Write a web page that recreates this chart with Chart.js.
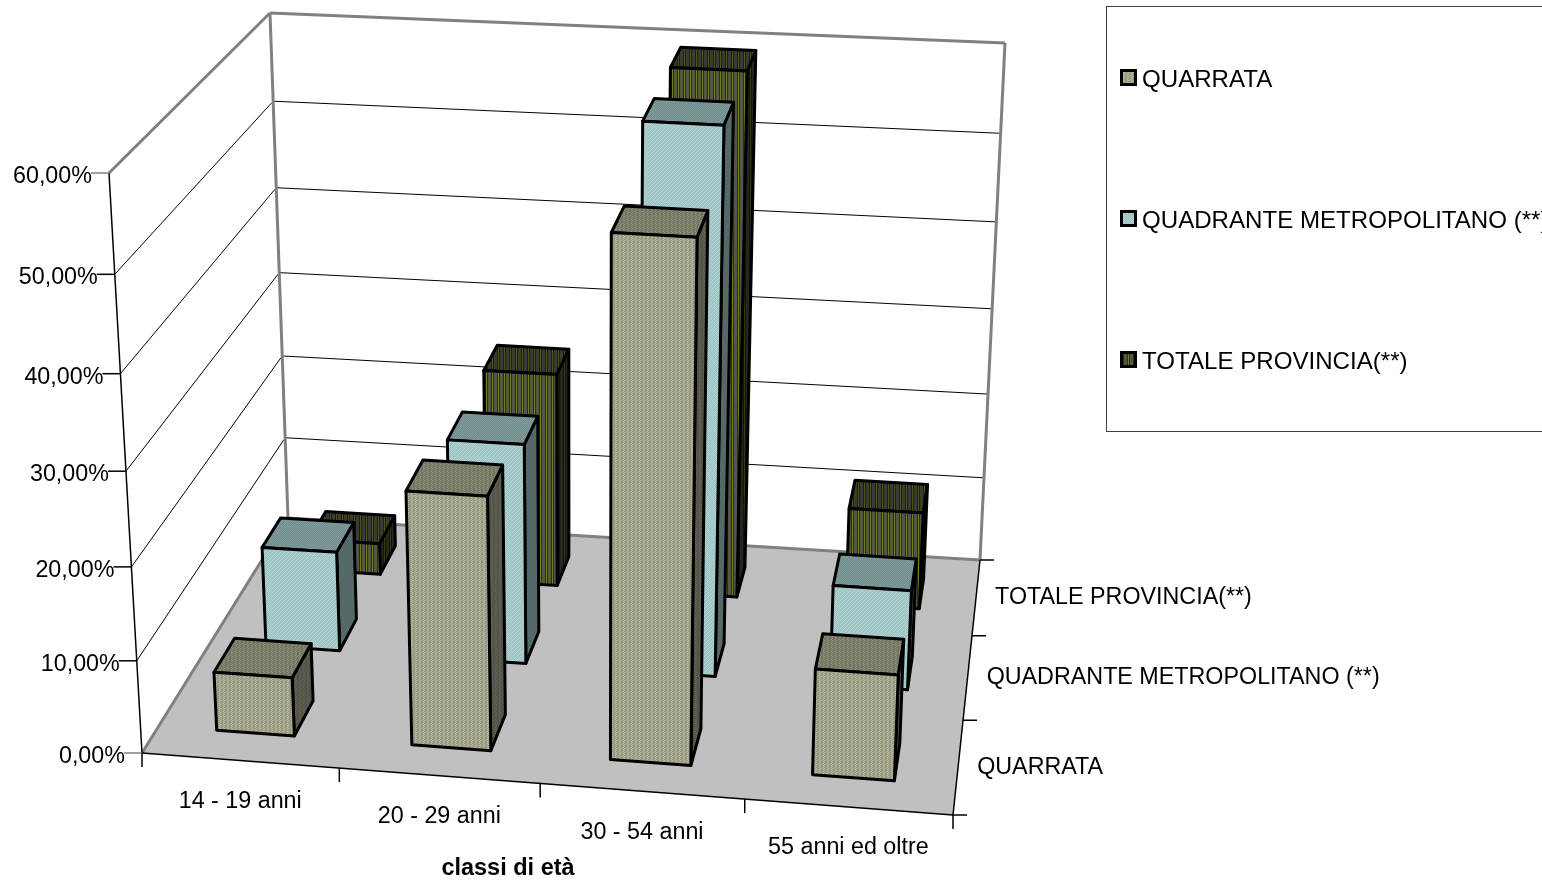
<!DOCTYPE html>
<html lang="it">
<head>
<meta charset="utf-8">
<title>Classi di età</title>
<script src="https://cdn.jsdelivr.net/npm/chart.js@4"></script>
<style>
  html, body { margin: 0; padding: 0; background: #fff; overflow: hidden; }
  canvas { display: block; }
</style>
</head>
<body>
<canvas id="chart" width="1542" height="883"></canvas>
<script>
// Chart data: share of each age class per territory, in percent.
const categories = ['14 - 19 anni', '20 - 29 anni', '30 - 54 anni', '55 anni ed oltre'];
const seriesNames = ['QUARRATA', 'QUADRANTE METROPOLITANO (**)', 'TOTALE PROVINCIA(**)'];
const quarrata = [6.4, 27.3, 54.9, 11.4];
const quadrante = [11.3, 24.7, 59.8, 11.2];
const provincia = [3.7, 24.9, 59.7, 11.3];
const valueTicks = [0, 10, 20, 30, 40, 50, 60];
const xTitle = 'classi di età';

const FONT = '"Liberation Sans", Arial, sans-serif';
const AXIS_FONT = `23.3px ${FONT}`;

// Camera frame of the 3D box: floor and ceiling corners in screen space,
// ordered front-left, front-right, back-right, back-left.
const FLOOR = [[142, 753], [953, 815], [980, 560], [288, 518]];
const CEILING = [[109, 173], [979, 222], [1005, 43], [270, 13]];
const HEIGHT_WEIGHT = 0.945;
const FLOOR_U_BEND = 0.015;
const CEILING_U_BEND = 0.04;

// Homography taking the unit square onto a screen quadrilateral.
function quadMap(q) {
  const [[ax, ay], [bx, by], [cx, cy], [dx, dy]] = q;
  const dx1 = bx - cx, dx2 = dx - cx, sx = ax - bx + cx - dx;
  const dy1 = by - cy, dy2 = dy - cy, sy = ay - by + cy - dy;
  const den = dx1 * dy2 - dx2 * dy1;
  const g = (sx * dy2 - dx2 * sy) / den;
  const h = (dx1 * sy - sx * dy1) / den;
  return (u, v) => {
    const d = g * u + h * v + 1;
    return [
      ((bx - ax + g * bx) * u + (dx - ax + h * dx) * v + ax) / d,
      ((by - ay + g * by) * u + (dy - ay + h * dy) * v + ay) / d
    ];
  };
}
const floorAt = quadMap(FLOOR);
const ceilingAt = quadMap(CEILING);

// u: along the categories, v: into the depth, w: height; all in 0..1.
function project(u, v, w) {
  const f = floorAt(u + FLOOR_U_BEND * u * (1 - u), v);
  const c = ceilingAt(u + CEILING_U_BEND * u * (1 - u), v);
  const a = 1 - w, b = w * HEIGHT_WEIGHT;
  return [(f[0] * a + c[0] * b) / (a + b), (f[1] * a + c[1] * b) / (a + b)];
}

function polygon(ctx, pts, fill, stroke, lw) {
  ctx.beginPath();
  pts.forEach((p, i) => (i ? ctx.lineTo(p[0], p[1]) : ctx.moveTo(p[0], p[1])));
  ctx.closePath();
  if (fill) { ctx.fillStyle = fill; ctx.fill(); }
  if (stroke) { ctx.strokeStyle = stroke; ctx.lineWidth = lw; ctx.lineJoin = 'round'; ctx.stroke(); }
}

function segment(ctx, p, q, color, lw) {
  ctx.beginPath();
  ctx.moveTo(p[0], p[1]);
  ctx.lineTo(q[0], q[1]);
  ctx.strokeStyle = color;
  ctx.lineWidth = lw;
  ctx.stroke();
}

// Pixel-tile fills: each row of a tile lists hex colours, scaled by a face shade.
function shade(hex, f) {
  const n = parseInt(hex.slice(1), 16);
  const c = [n >> 16, (n >> 8) & 255, n & 255].map(v => Math.round(v * f));
  return `rgb(${c[0]},${c[1]},${c[2]})`;
}
function tilePattern(rows, f) {
  const off = document.createElement('canvas');
  off.width = rows[0].length;
  off.height = rows.length;
  const octx = off.getContext('2d');
  rows.forEach((row, y) => row.forEach((col, x) => {
    octx.fillStyle = shade(col, f);
    octx.fillRect(x, y, 1, 1);
  }));
  return document.getElementById('chart').getContext('2d').createPattern(off, 'repeat');
}
const A1 = '#b9b9a0', A2 = '#a3a38c', A3 = '#93937d';
const B1 = '#b4d8d8', B2 = '#9cc2c2', B3 = '#a8cccc';
const C1 = '#6f8220', C2 = '#2b2f18', C3 = '#55554a';
const tiles = [
  [[A1, A2, A3, A2], [A2, A3, A2, A1], [A1, A3, A3, A2], [A3, A2, A2, A1]],
  [[B1, B2, B3, B2], [B2, B3, B2, B1], [B3, B2, B1, B2], [B2, B1, B2, B3]],
  [[C1, C2, C3, C3, C3, C2]]
];
const faceShades = [
  { front: 1, top: 0.76, side: 0.54 },
  { front: 1, top: 0.73, side: 0.52 },
  { front: 1, top: 0.68, side: 0.45 }
];
const faceFills = tiles.map((t, s) => ({
  front: tilePattern(t, faceShades[s].front),
  top: tilePattern(t, faceShades[s].top),
  side: tilePattern(t, faceShades[s].side)
}));

// Bar controller that keeps Chart.js parsing and scales but draws prisms on the floor.
class Bar3DController extends Chart.BarController {
  draw() {
    const chart = this.chart, ctx = chart.ctx;
    const meta = this.getMeta();
    const s = this.index;
    const fills = faceFills[s];
    const xs = chart.scales.x, ys = chart.scales.y;
    const halfU = 0.2 / categories.length;
    const v0 = (s + 0.3) / seriesNames.length, v1 = (s + 0.7) / seriesNames.length;
    meta.data.forEach((_, i) => {
      const parsed = this.getParsed(i);
      const uc = xs.getDecimalForPixel(xs.getPixelForValue(parsed.x));
      const w = ys.getDecimalForPixel(ys.getPixelForValue(parsed.y));
      const u0 = uc - halfU, u1 = uc + halfU;
      polygon(ctx, [project(u1, v0, 0), project(u1, v1, 0), project(u1, v1, w), project(u1, v0, w)], fills.side, '#000', 3);
      polygon(ctx, [project(u0, v0, w), project(u1, v0, w), project(u1, v1, w), project(u0, v1, w)], fills.top, '#000', 3);
      polygon(ctx, [project(u0, v0, 0), project(u1, v0, 0), project(u1, v0, w), project(u0, v0, w)], fills.front, '#000', 3);
    });
  }
}
Bar3DController.id = 'bar3d';
Bar3DController.defaults = Chart.BarController.defaults;
Bar3DController.overrides = Chart.BarController.overrides;
Chart.register(Bar3DController);

// Floor, walls and gridlines behind the bars.
const boxPlugin = {
  id: 'box3d',
  beforeDatasetsDraw(chart) {
    const ctx = chart.ctx, ys = chart.scales.y;
    const deco = v => ys.getDecimalForPixel(ys.getPixelForValue(v));
    ctx.save();
    ctx.lineCap = 'butt';
    polygon(ctx, [project(0, 0, 0), project(1, 0, 0), project(1, 1, 0), project(0, 1, 0)], '#c0c0c0');

    valueTicks.forEach(v => {
      if (v === 0 || v === 60) return;
      const w = deco(v);
      segment(ctx, project(0, 0, w), project(0, 0.99, w), '#000', 1);
      segment(ctx, project(0, 1, w), project(1, 1, w), '#000', 1);
    });

    const gray = '#808080';
    segment(ctx, project(0, 0, 1), project(0, 1, 1), gray, 3);
    segment(ctx, project(0, 1, 1), project(1, 1, 1), gray, 3);
    segment(ctx, project(0, 1, 1), project(0, 1, 0), gray, 3);
    segment(ctx, project(1, 1, 1), project(1, 1, 0), gray, 3);
    segment(ctx, project(0, 0, 0), project(0, 1, 0), gray, 3);
    segment(ctx, project(0, 1, 0), project(1, 1, 0), gray, 3);

    // Axis lines and tick marks.
    segment(ctx, project(0, 0, 0), project(0, 0, 1), '#000', 1.5);
    segment(ctx, project(0, 0, 0), project(1, 0, 0), '#000', 1.5);
    segment(ctx, project(1, 0, 0), project(1, 1, 0), '#000', 1.5);
    valueTicks.forEach(v => {
      const p = project(0, 0, deco(v));
      segment(ctx, p, [p[0] - 18, p[1]], v === 0 || v === 60 ? gray : '#000', 1.5);
    });
    categories.concat(['']).forEach((_, i) => {
      const p = project(i / categories.length, 0, 0);
      segment(ctx, p, [p[0], p[1] + 14], '#000', 1.5);
    });
    seriesNames.concat(['']).forEach((_, i) => {
      const p = project(1, i / seriesNames.length, 0);
      segment(ctx, p, [p[0] + 14, p[1]], '#000', 1.5);
    });
    ctx.restore();
  },
  afterDraw(chart) {
    const ctx = chart.ctx, ys = chart.scales.y;
    ctx.save();
    ctx.fillStyle = '#000';
    ctx.textBaseline = 'middle';
    ctx.font = AXIS_FONT;

    // Value axis labels.
    ctx.textAlign = 'right';
    valueTicks.forEach(v => {
      const w = ys.getDecimalForPixel(ys.getPixelForValue(v));
      const p = project(0, 0, w);
      ctx.fillText(v.toFixed(2).replace('.', ',') + '%', p[0] - 17, p[1] + 3.5);
    });

    // Category labels along the front edge.
    ctx.textAlign = 'center';
    categories.forEach((c, i) => {
      const p = project((i + 0.5) / categories.length, 0, 0);
      ctx.fillText(c, p[0], p[1] + 41);
    });

    // Series labels along the right edge.
    ctx.textAlign = 'left';
    seriesNames.forEach((n, i) => {
      const p = project(1, (i + 0.5) / seriesNames.length, 0);
      ctx.fillText(n, p[0] + 19, p[1] + 1);
    });

    // Axis title.
    ctx.textAlign = 'center';
    ctx.font = `bold 23.5px ${FONT}`;
    ctx.fillText(xTitle, 508, 869);

    // Legend box, clipped by the canvas edge on the right.
    ctx.strokeStyle = '#404040';
    ctx.lineWidth = 1;
    ctx.strokeRect(1106.5, 6.5, 460, 425);
    ctx.font = `24.1px ${FONT}`;
    ctx.textAlign = 'left';
    seriesNames.forEach((n, i) => {
      const y = 78 + i * 141;
      ctx.fillStyle = faceFills[i].front;
      ctx.fillRect(1121.5, y - 7.5, 14, 14);
      ctx.strokeStyle = '#000';
      ctx.lineWidth = 3;
      ctx.strokeRect(1121.5, y - 7.5, 14, 14);
      ctx.fillStyle = '#000';
      ctx.fillText(n, 1142, y + 2);
    });
    ctx.restore();
  }
};

new Chart(document.getElementById('chart'), {
  type: 'bar3d',
  data: {
    labels: categories,
    datasets: [
      { label: seriesNames[0], data: quarrata },
      { label: seriesNames[1], data: quadrante },
      { label: seriesNames[2], data: provincia }
    ]
  },
  options: {
    responsive: false,
    animation: false,
    layout: { padding: 0 },
    plugins: { legend: { display: false }, tooltip: { enabled: false } },
    scales: {
      x: { type: 'category', display: false, offset: true },
      y: { type: 'linear', display: false, min: 0, max: 60, stacked: false }
    }
  },
  plugins: [boxPlugin]
});
</script>
</body>
</html>
